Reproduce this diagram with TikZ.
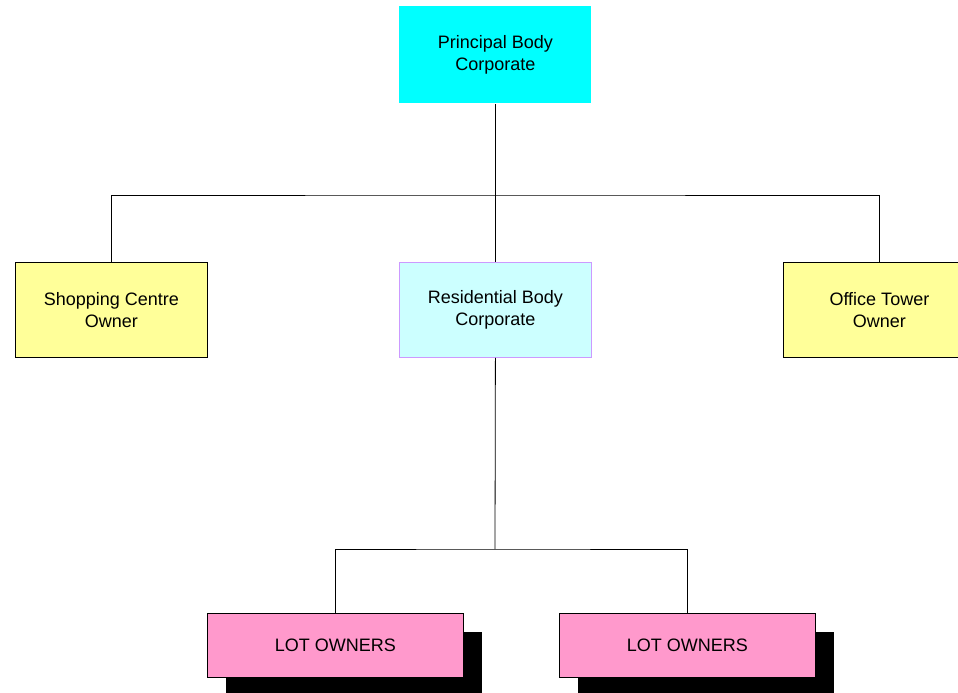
\documentclass[tikz,border=0pt]{standalone}
\usepackage{fontspec}
\setmainfont{Liberation Sans}
\begin{document}
\begin{tikzpicture}[x=1pt,y=-1pt,
  box/.style={draw=black, line width=0.8pt, minimum width=192pt, minimum height=95pt, inner sep=0pt,
    align=center, font=\fontsize{18}{21.5}\selectfont, anchor=north west},
  lot/.style={box, fill=lotpink, minimum width=256pt, minimum height=64pt},
  shadowbox/.style={fill=black, draw=none, minimum width=256pt, minimum height=64pt, inner sep=0pt, anchor=north west},
  conn/.style={draw=black, line width=0.8pt}]
\definecolor{lotpink}{HTML}{FF99CC}
\definecolor{pcyan}{HTML}{00FFFF}
\definecolor{rcyan}{HTML}{CCFFFF}
\definecolor{rborder}{HTML}{CC99FF}
\definecolor{oyellow}{HTML}{FFFF99}
\useasboundingbox (0,0) rectangle (958,693);
\begin{scope}
\clip (0,0) rectangle (958,693);
\node[box, draw=none, fill=pcyan, minimum height=97pt] (pbc) at (399,6) {Principal Body\\Corporate};
\node[box, fill=oyellow] (sco) at (15,262) {Shopping Centre\\Owner};
\node[box, fill=rcyan, draw=rborder] (rbc) at (399,262) {Residential Body\\Corporate};
\node[box, fill=oyellow] (oto) at (783,262) {Office Tower\\Owner};
\node[shadowbox] (sh1) at (226,632) {};
\node[shadowbox] (sh2) at (578,632) {};
\node[lot] (lo1) at (207,613) {LOT OWNERS};
\node[lot] (lo2) at (559,613) {LOT OWNERS};
\coordinate (j1) at (495,195);
\coordinate (j2) at (495,549);
\draw[conn] (pbc.south) -- (rbc.north);
\draw[conn] (sco.north) |- (j1) -| (oto.north);
\draw[conn] (rbc.south) -- (j2);
\draw[conn] (lo1.north) |- (j2) -| (lo2.north);
\end{scope}
\end{tikzpicture}
\end{document}
